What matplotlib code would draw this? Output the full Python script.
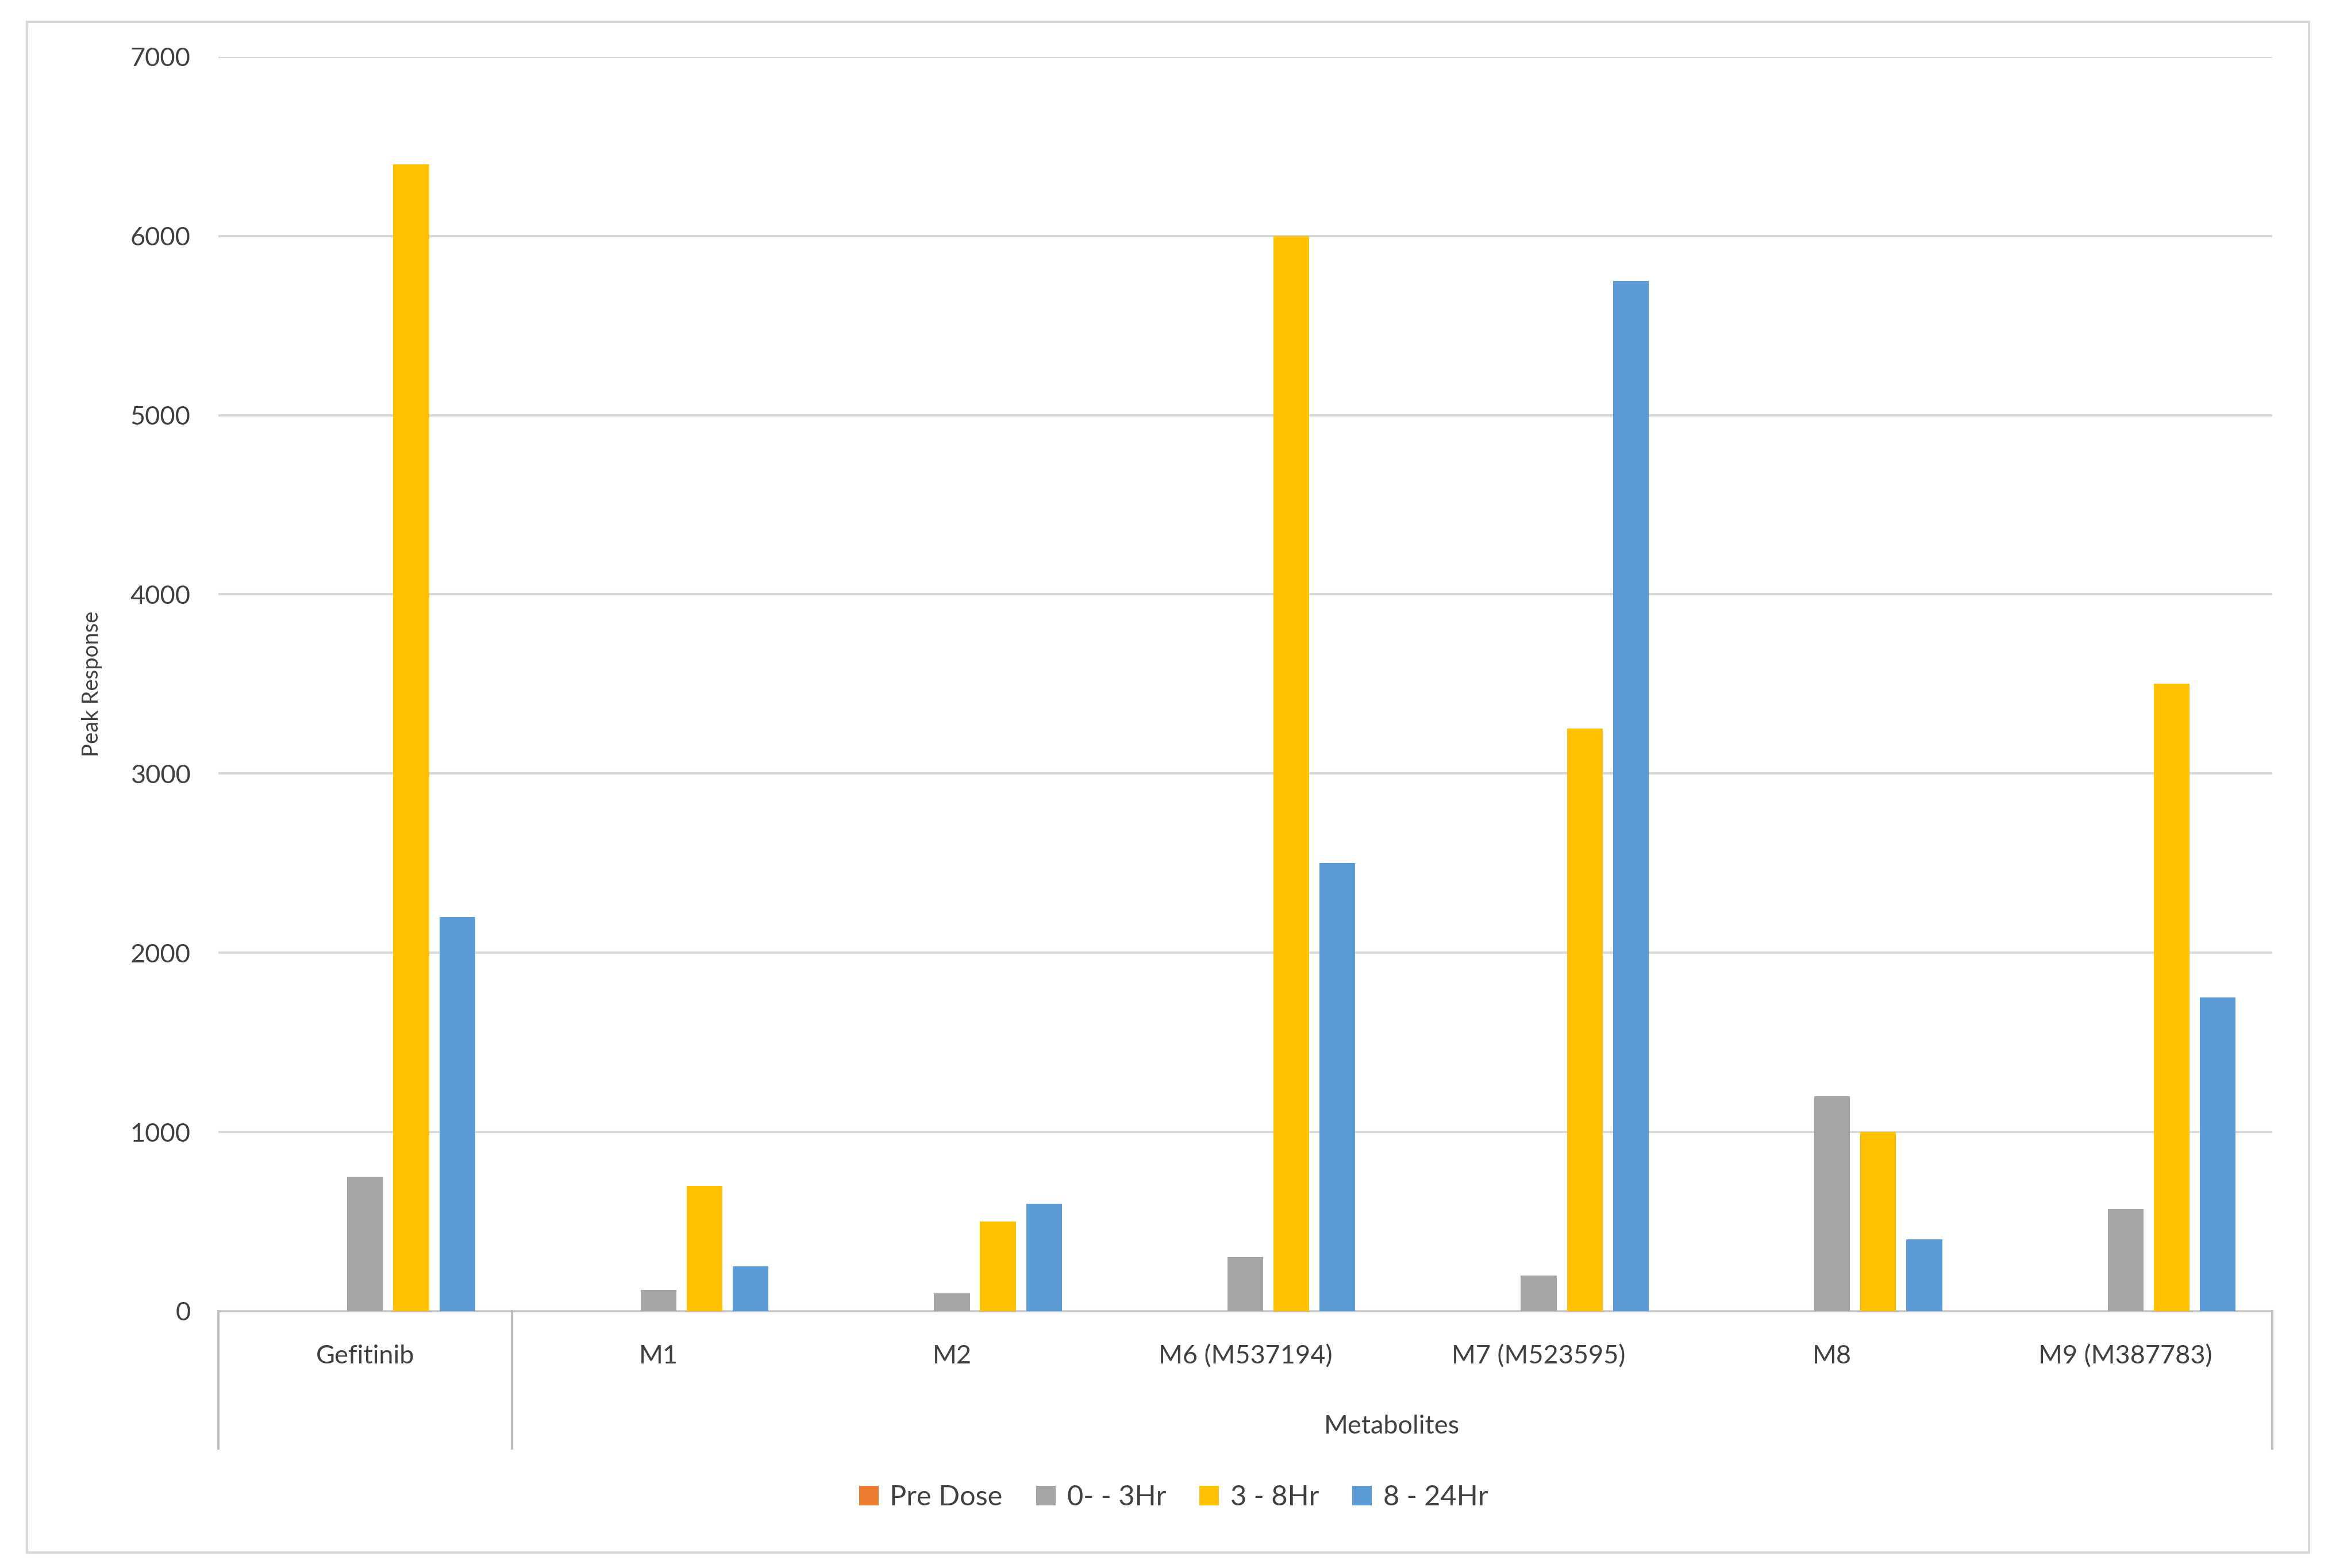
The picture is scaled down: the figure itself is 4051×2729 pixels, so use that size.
import matplotlib.pyplot as plt
import numpy as np
from matplotlib.patches import Rectangle

plt.rcParams['font.family'] = ['Lato', 'DejaVu Sans']

categories = ["Gefitinib", "M1", "M2", "M6 (M537194)", "M7 (M523595)", "M8", "M9 (M387783)"]
series_names = ["", "Pre Dose", "0- - 3Hr", "3 - 8Hr", "8 - 24Hr"]
blank = [0, 0, 0, 0, 0, 0, 0]
pre_dose = [0, 0, 0, 0, 0, 0, 0]
hr_0_3 = [750, 120, 100, 300, 200, 1200, 570]
hr_3_8 = [6400, 700, 500, 6000, 3250, 1000, 3500]
hr_8_24 = [2200, 250, 600, 2500, 5750, 400, 1750]
colors = ["#4472C4", "#ED7D31", "#A5A5A5", "#FFC000", "#5B9BD5"]

fig = plt.figure(figsize=(4052 / 250, 2729 / 250), dpi=250)
ax = fig.add_axes([0.0938, 0.1638, 0.882, 0.80])

x = np.arange(len(categories))
step = 0.157
for i, (vals, c, name) in enumerate(zip([blank, pre_dose, hr_0_3, hr_3_8, hr_8_24], colors, series_names)):
    ax.bar(x + (i - 2) * step, vals, width=0.122, color=c, label=name, zorder=3)

ax.set_xlim(-0.5, len(categories) - 0.5)
ax.set_ylim(0, 7000)
ax.set_yticks(range(0, 7001, 1000))
ax.grid(axis="y", color="#D9D9D9", linewidth=1.2, zorder=0)
for s in ["top", "right", "left"]:
    ax.spines[s].set_visible(False)
ax.spines["bottom"].set_color("#BFBFBF")
ax.tick_params(axis="y", length=0, labelsize=13, colors="#404040", pad=14)
ax.set_xticks([])
ax.set_ylabel("Peak Response", fontsize=11, color="#404040", labelpad=14)

# category labels and group bracket
for xi, name in zip(x, categories):
    ax.text(xi, -0.036, name, transform=ax.get_xaxis_transform(), ha="center", va="center",
            fontsize=13, color="#404040")
for xv in [-0.5, 0.5, len(categories) - 0.5]:
    ax.plot([xv, xv], [0, -0.1095], transform=ax.get_xaxis_transform(), color="#BFBFBF",
            linewidth=1.2, clip_on=False)
ax.text((0.5 + len(categories) - 0.5) / 2, -0.092, "Metabolites", transform=ax.get_xaxis_transform(),
        ha="center", va="center", fontsize=13, color="#404040")

fig.legend(loc="center", bbox_to_anchor=(0.504, 0.045), ncol=5, frameon=False, fontsize=14,
           handlelength=0.7, handleheight=0.7, columnspacing=1.2, handletextpad=0.4,
           labelcolor="#404040")

fig.patches.append(Rectangle((0.0115, 0.01), 0.98, 0.976, transform=fig.transFigure,
                             fill=False, edgecolor="#D9D9D9", linewidth=1.2))

fig.savefig("out.png", dpi=250)
